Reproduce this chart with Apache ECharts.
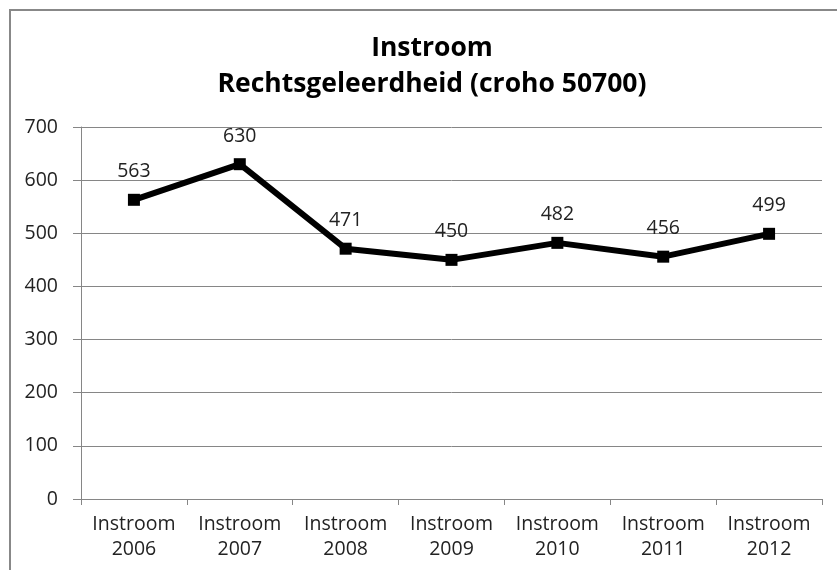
<!DOCTYPE html>
<html>
<head>
<meta charset="utf-8">
<style>
  html, body { margin: 0; padding: 0; background: #fff; }
  #chart { width: 837px; height: 570px; }
</style>
<script src="https://cdn.jsdelivr.net/npm/echarts@6/dist/echarts.min.js"></script>
</head>
<body>
<div id="chart"></div>
<script>
const categories = ['Instroom\n2006', 'Instroom\n2007', 'Instroom\n2008', 'Instroom\n2009', 'Instroom\n2010', 'Instroom\n2011', 'Instroom\n2012']
const instroom = [563, 630, 471, 450, 482, 456, 499]
const yTicks = [0, 100, 200, 300, 400, 500, 600, 700]

const fontFamily = '"Open Sans", "DejaVu Sans", sans-serif'

const chart = echarts.init(document.getElementById('chart'))

chart.setOption({
  animation: false,
  backgroundColor: '#fff',
  textStyle: { fontFamily: fontFamily },
  title: {
    text: 'Instroom\nRechtsgeleerdheid (croho 50700)',
    left: 427,
    textAlign: 'center',
    top: 25,
    textStyle: {
      fontFamily: fontFamily,
      fontSize: 26.5,
      fontWeight: 'bold',
      color: '#000',
      lineHeight: 36
    }
  },
  graphic: [
    {
      type: 'polyline',
      shape: { points: [[10, 580], [10, 10], [850, 10]] },
      style: { stroke: '#888', lineWidth: 2, fill: null }
    }
  ],
  grid: { left: 81, right: 15, top: 127, bottom: 71 },
  xAxis: {
    type: 'category',
    data: categories,
    boundaryGap: true,
    axisLine: { lineStyle: { color: '#868686', width: 1 } },
    axisTick: { show: true, length: 6, lineStyle: { color: '#868686' } },
    axisLabel: {
      color: '#222',
      fontSize: 19.5,
      lineHeight: 25,
      margin: 13,
      interval: 0
    }
  },
  yAxis: {
    type: 'value',
    min: yTicks[0],
    max: yTicks[yTicks.length - 1],
    interval: 100,
    axisLine: { show: true, lineStyle: { color: '#868686', width: 1 } },
    axisTick: { show: true, length: 8, lineStyle: { color: '#868686' } },
    splitLine: { show: true, lineStyle: { color: '#868686', width: 1 } },
    axisLabel: { color: '#222', fontSize: 19.5, margin: 23 }
  },
  series: [
    {
      type: 'line',
      data: instroom,
      symbol: 'rect',
      symbolSize: 12,
      itemStyle: { color: '#000' },
      lineStyle: { color: '#000', width: 6 },
      label: {
        show: true,
        position: 'top',
        distance: 12,
        color: '#222',
        fontSize: 19.5
      }
    }
  ]
})

window.addEventListener('resize', () => chart.resize())
</script>
</body>
</html>
